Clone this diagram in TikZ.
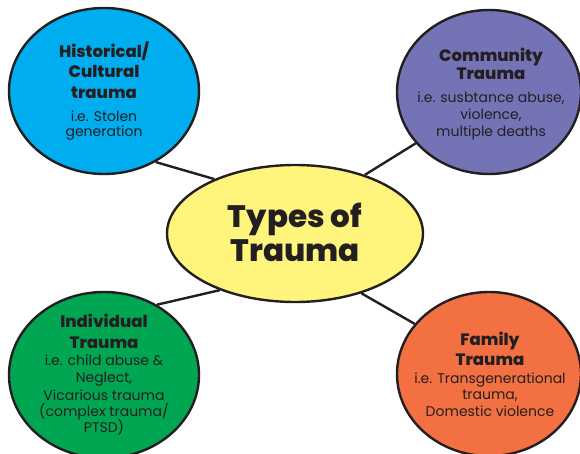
\documentclass[tikz,border=0pt]{standalone}
\usepackage{fontspec}
\setmainfont{Poppins}[BoldFont={Poppins ExtraBold}]
\usetikzlibrary{shapes.geometric}
\definecolor{ink}{HTML}{231F20}
\definecolor{cblue}{HTML}{00AEEF}
\definecolor{cpurple}{HTML}{7473B6}
\definecolor{cyellow}{HTML}{FFF57D}
\definecolor{cgreen}{HTML}{00A651}
\definecolor{corange}{HTML}{F37042}
\tikzset{
  bubble/.style={draw=ink, ellipse, inner sep=0pt, line width=2.4pt},
  link/.style={draw=ink, line width=2.4pt},
  head/.style={font=\bfseries\fontsize{16.5}{16.5}\selectfont, text=ink, anchor=base, inner sep=0pt},
  desc/.style={font=\fontsize{14}{14}\selectfont, text=ink, anchor=base, inner sep=0pt},
  title/.style={font=\bfseries\fontsize{31}{31}\selectfont, text=ink, anchor=base, inner sep=0pt}
}
\begin{document}
\begin{tikzpicture}[x=1pt,y=-1pt]
\useasboundingbox (0,0) rectangle (580,454);
\node[bubble, fill=cblue, minimum width=190pt, minimum height=166pt] (tl) at (104,91) {};
\node[bubble, fill=cpurple, minimum width=184pt, minimum height=164pt] (tr) at (489,92) {};
\node[bubble, fill=cyellow, minimum width=256pt, minimum height=137pt] (c) at (295,233.5) {};
\node[bubble, fill=cgreen, minimum width=190pt, minimum height=166pt] (bl) at (104,375) {};
\node[bubble, fill=corange, minimum width=184pt, minimum height=164pt] (br) at (489,374) {};
\draw[link] (tl.-54) -- (c.146);
\draw[link] (tr.215) -- (c.40);
\draw[link] (bl.53) -- (c.-143);
\draw[link] (br.146) -- (c.-42);
% title
\node[title] (t1) at (295,227) {Types of};
\node[title] (t2) at (295,261) {Trauma};
% top left
\node[head] (a1) at (104,58) {Historical/};
\node[head] (a2) at (104,78) {Cultural};
\node[head] (a3) at (104,99) {trauma};
\node[desc] (a4) at (104,122) {i.e. Stolen};
\node[desc] (a5) at (104,137) {generation};
% top right
\node[head] (b1) at (491,62) {Community};
\node[head] (b2) at (491,80) {Trauma};
\node[desc] (b3) at (491,103) {i.e. susbtance abuse,};
\node[desc] (b4) at (491,120) {violence,};
\node[desc] (b5) at (491,137) {multiple deaths};
% bottom left
\node[head] (d1) at (104,327) {Individual};
\node[head] (d2) at (104,348) {Trauma};
\node[desc] (d3) at (104,365) {i.e. child abuse \&};
\node[desc] (d4) at (104,382) {Neglect,};
\node[desc] (d5) at (104,400) {Vicarious trauma};
\node[desc] (d6) at (104,416) {(complex trauma/};
\node[desc] (d7) at (104,432) {PTSD)};
% bottom right
\node[head] (e1) at (490,345) {Family};
\node[head] (e2) at (490,365) {Trauma};
\node[desc] (e3) at (490,383) {i.e. Transgenerational};
\node[desc] (e4) at (490,399) {trauma,};
\node[desc] (e5) at (490,416) {Domestic violence};
\end{tikzpicture}
\end{document}
